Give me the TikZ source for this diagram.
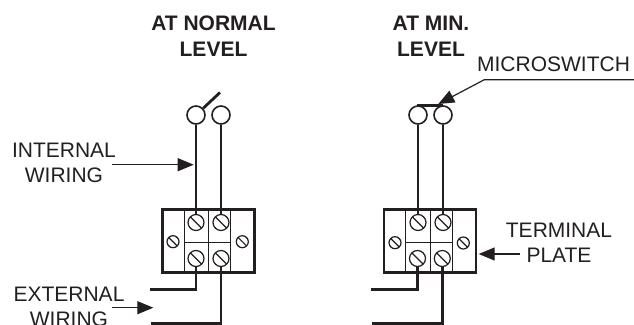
\documentclass[tikz,border=0pt]{standalone}
\usepackage{fontspec}
\setmainfont{Liberation Sans}
\usetikzlibrary{arrows.meta, positioning, calc}
\definecolor{inkcolor}{RGB}{35, 31, 32}
\begin{document}
\begin{tikzpicture}[
        x=1pt, y=-1pt,
        inkcolor,
        terminal/.style={circle, draw=inkcolor, fill=white, line width=1.6pt, minimum size=18pt, inner sep=0pt},
        screw/.style={circle, draw=inkcolor, fill=white, line width=1.2pt, minimum size=#1, inner sep=0pt,
            path picture={
                \foreach \offs in {-0.5,0,0.5} {
                    \draw[line width=1.2pt] ($(path picture bounding box.center)+(45:\offs*#1)+(-45:#1)$) -- ($(path picture bounding box.center)+(45:\offs*#1)+(135:#1)$);
                }
            }},
        plate/.style={rectangle, draw=inkcolor, fill=white, line width=2.4pt, minimum width=92pt, minimum height=63pt, inner sep=0pt},
        label/.style={font=\fontsize{21}{25}\selectfont, text=inkcolor, align=center, inner sep=0pt},
        title/.style={font=\fontsize{21}{26}\selectfont\bfseries, text=inkcolor, align=center, inner sep=0pt},
        divider/.style={line width=1.4pt},
        wire/.style={line width=1.6pt},
        extwire/.style={line width=2.5pt},
        arm/.style={line width=2.8pt},
        arrow/.style={line width=1.2pt, -{Triangle[length=16pt, width=13pt]}}
    ]
        \useasboundingbox (0,0) rectangle (634,324);
        \clip (0,0) rectangle (634,324);

        % Titles
        \node[title] (normal) at (213.5,36) {AT NORMAL\\LEVEL};
        \node[title] (minlevel) at (431,36) {AT MIN.\\LEVEL};

        % Left plate
        \node[plate] (plateL) at (208.5,241) {};
        \draw[divider] (184.3,209) -- (184.3,273) (208.3,209) -- (208.3,273) (230.7,209) -- (230.7,273) (184.3,242.7) -- (230.7,242.7);

        % Left switch
        \node[terminal] (termLa) at (196,115) {};
        \node[terminal] (termLb) at (221,115) {};
        \coordinate (armL) at (220,92.5);
        \draw[arm] (termLa) -- (armL);

        % Left screws
        \node[screw=16pt] (screwLa) at (196,222.5) {};
        \node[screw=16pt] (screwLb) at (221,222.5) {};
        \node[screw=16pt] (screwLc) at (196,258.5) {};
        \node[screw=16pt] (screwLd) at (221,258.5) {};
        \node[screw=12pt] (screwLe) at (173,241.7) {};
        \node[screw=12pt] (screwLf) at (242.3,241.7) {};

        % Left wires
        \draw[wire] (termLa) -- (screwLa);
        \draw[wire] (termLb) -- (screwLb);
        \coordinate (extLa) at (150,289.7);
        \coordinate (extLb) at (151,323.5);
        \draw[extwire] (screwLc) |- (extLa);
        \draw[extwire] (screwLd) |- (extLb);

        % Right plate
        \node[plate] (plateR) at (430,241) {};
        \draw[divider] (405.7,209) -- (405.7,273) (430.3,209) -- (430.3,273) (452.3,209) -- (452.3,273) (405.7,242.7) -- (452.3,242.7);

        % Right switch
        \node[terminal] (termRa) at (418,115) {};
        \node[terminal] (termRb) at (443,115) {};
        \coordinate (armRa) at (417.3,105.3);
        \coordinate (armRb) at (442.7,105.3);
        \draw[arm] (armRa) -- (armRb);

        % Right screws
        \node[screw=16pt] (screwRa) at (418,222.5) {};
        \node[screw=16pt] (screwRb) at (443,222.5) {};
        \node[screw=16pt] (screwRc) at (417.5,258.5) {};
        \node[screw=16pt] (screwRd) at (442.3,258.5) {};
        \node[screw=12pt] (screwRe) at (395,242.7) {};
        \node[screw=12pt] (screwRf) at (463.3,243) {};

        % Right wires
        \draw[wire] (termRa) -- (screwRa);
        \draw[wire] (termRb) -- (screwRb);
        \coordinate (extRa) at (371.3,289.7);
        \coordinate (extRb) at (372,323.5);
        \draw[extwire] (screwRc) |- (extRa);
        \draw[extwire] (screwRd) |- (extRb);

        % Labels
        \node[label] (internal) at (64,163) {INTERNAL\\WIRING};
        \node[label] (external) at (69,306.5) {EXTERNAL\\WIRING};
        \node[label] (terminalplate) at (559,243) {TERMINAL\\PLATE};
        \node[label] (microswitch) at (553.5,64.5) {MICROSWITCH};

        % Leaders
        \coordinate (leadI) at (112,164.7);
        \coordinate (tipI) at (193.7,164.7);
        \coordinate (leadE) at (112,307.7);
        \coordinate (tipE) at (153.3,307.7);
        \coordinate (leadT) at (520.3,254);
        \coordinate (tipT) at (478.7,254);
        \coordinate (leadMa) at (634,79.7);
        \coordinate (leadMb) at (484.3,79.7);
        \coordinate (tipM) at (438.3,104);
        \draw[arrow] (leadI) -- (tipI);
        \draw[arrow] (leadE) -- (tipE);
        \draw[arrow] (leadT) -- (tipT);
        \draw[arrow] (leadMa) -- (leadMb) -- (tipM);
    \end{tikzpicture}
\end{document}
